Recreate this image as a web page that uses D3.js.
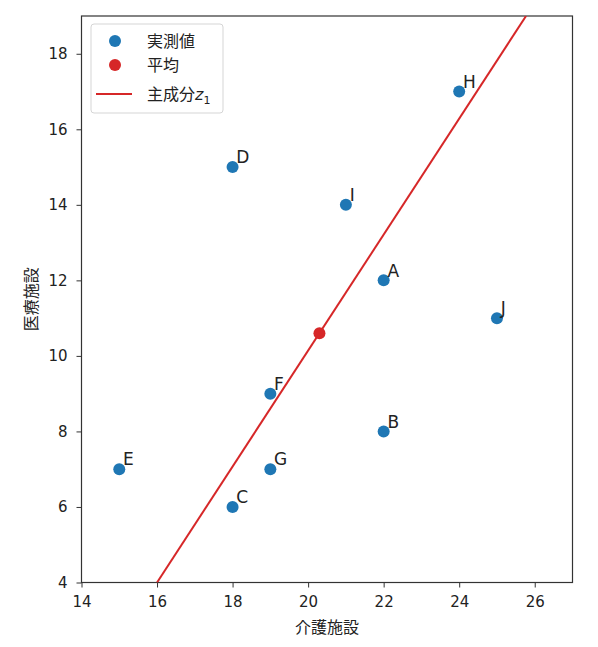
<!DOCTYPE html>
<html>
<head>
<meta charset="utf-8">
<script src="https://cdn.jsdelivr.net/npm/d3@7"></script>
<style>
  body { margin: 0; background: #fff; }
  text { font-family: "DejaVu Sans", "Noto Sans CJK JP", sans-serif; fill: #222; }
  .jp { font-family: "Noto Sans CJK JP", "DejaVu Sans", sans-serif; }
</style>
</head>
<body>
<div id="chart"></div>
<script>
// data
const names = ['A', 'B', 'C', 'D', 'E', 'F', 'G', 'H', 'I', 'J'];
const kaigo = [22, 22, 18, 18, 15, 19, 19, 24, 21, 25];   // 介護施設
const iryo  = [12, 8, 6, 15, 7, 9, 7, 17, 14, 11];        // 医療施設
const meanPt = [20.3, 10.6];
const pcX = [16.0, 25.77];   // 主成分 z1 line ends
const pcY = [4, 19];
const xTicks = [14, 16, 18, 20, 22, 24, 26];
const yTicks = [4, 6, 8, 10, 12, 14, 16, 18];

const W = 598, H = 647;
const m = { left: 81.5, right: 25.5, top: 16, bottom: 64.5 };

const svg = d3.select('#chart').append('svg')
    .attr('width', W)
    .attr('height', H);

const x = d3.scaleLinear().domain([14, 27]).range([m.left, W - m.right]);
const y = d3.scaleLinear().domain([4, 19]).range([H - m.bottom, m.top]);

svg.append('defs').append('clipPath').attr('id', 'clip')
    .append('rect')
    .attr('x', m.left).attr('y', m.top)
    .attr('width', W - m.left - m.right)
    .attr('height', H - m.top - m.bottom);

// axes
const xAxis = svg.append('g')
    .attr('transform', `translate(0,${H - m.bottom})`)
    .call(d3.axisBottom(x).tickValues(xTicks).tickSize(5).tickPadding(9));
const yAxis = svg.append('g')
    .attr('transform', `translate(${m.left},0)`)
    .call(d3.axisLeft(y).tickValues(yTicks).tickSize(5).tickPadding(9));
[xAxis, yAxis].forEach(g => {
    g.selectAll('text').style('font-size', '15px').attr('fill', '#222');
    g.selectAll('line').attr('stroke', '#333');
    g.select('.domain').remove();
});

// frame
svg.append('rect')
    .attr('x', m.left).attr('y', m.top)
    .attr('width', W - m.left - m.right)
    .attr('height', H - m.top - m.bottom)
    .attr('fill', 'none')
    .attr('stroke', '#333')
    .attr('stroke-width', 1.2);

const plot = svg.append('g').attr('clip-path', 'url(#clip)');

// measured points
plot.selectAll('circle.obs')
    .data(names)
    .enter()
    .append('circle')
    .attr('class', 'obs')
    .attr('cx', (d, i) => x(kaigo[i]))
    .attr('cy', (d, i) => y(iryo[i]))
    .attr('r', 6)
    .attr('fill', '#1f77b4');

// principal component line
plot.append('line')
    .attr('x1', x(pcX[0])).attr('y1', y(pcY[0]))
    .attr('x2', x(pcX[1])).attr('y2', y(pcY[1]))
    .attr('stroke', '#d62728')
    .attr('stroke-width', 2);

// mean
plot.append('circle')
    .attr('cx', x(meanPt[0]))
    .attr('cy', y(meanPt[1]))
    .attr('r', 6)
    .attr('fill', '#d62728');

// point labels
svg.selectAll('text.lbl')
    .data(names)
    .enter()
    .append('text')
    .attr('class', 'lbl')
    .attr('x', (d, i) => x(kaigo[i] + 0.1))
    .attr('y', (d, i) => y(iryo[i] + 0.1))
    .style('font-size', '17px')
    .text(d => d);

// axis titles
svg.append('text')
    .attr('class', 'jp')
    .attr('x', (m.left + W - m.right) / 2)
    .attr('y', 633)
    .attr('text-anchor', 'middle')
    .style('font-size', '16px')
    .text('介護施設');
svg.append('text')
    .attr('class', 'jp')
    .attr('transform', `translate(37,${(m.top + H - m.bottom) / 2}) rotate(-90)`)
    .attr('text-anchor', 'middle')
    .style('font-size', '16px')
    .text('医療施設');

// legend
const lg = svg.append('g');
lg.append('rect')
    .attr('x', 91).attr('y', 24)
    .attr('width', 132).attr('height', 89)
    .attr('rx', 3)
    .attr('fill', 'rgba(255,255,255,0.8)')
    .attr('stroke', '#d5d5d5');
lg.append('circle').attr('cx', 115).attr('cy', 41).attr('r', 6).attr('fill', '#1f77b4');
lg.append('circle').attr('cx', 115).attr('cy', 65).attr('r', 6).attr('fill', '#d62728');
lg.append('line')
    .attr('x1', 96).attr('x2', 132).attr('y1', 94).attr('y2', 94)
    .attr('stroke', '#d62728').attr('stroke-width', 2);
const lgText = ['実測値', '平均'];
lgText.forEach((t, i) => {
    lg.append('text').attr('class', 'jp')
        .attr('x', 147).attr('y', 41 + i * 24)
        .attr('dy', '0.35em')
        .style('font-size', '16px')
        .text(t);
});
const t3 = lg.append('text').attr('class', 'jp')
    .attr('x', 147).attr('y', 94).attr('dy', '0.35em')
    .style('font-size', '16px');
t3.append('tspan').text('主成分');
t3.append('tspan').attr('font-style', 'italic').attr('font-family', 'DejaVu Sans').text('z');
t3.append('tspan').attr('font-size', '11px').attr('dy', '4').attr('font-family', 'DejaVu Sans').text('1');
</script>
</body>
</html>
